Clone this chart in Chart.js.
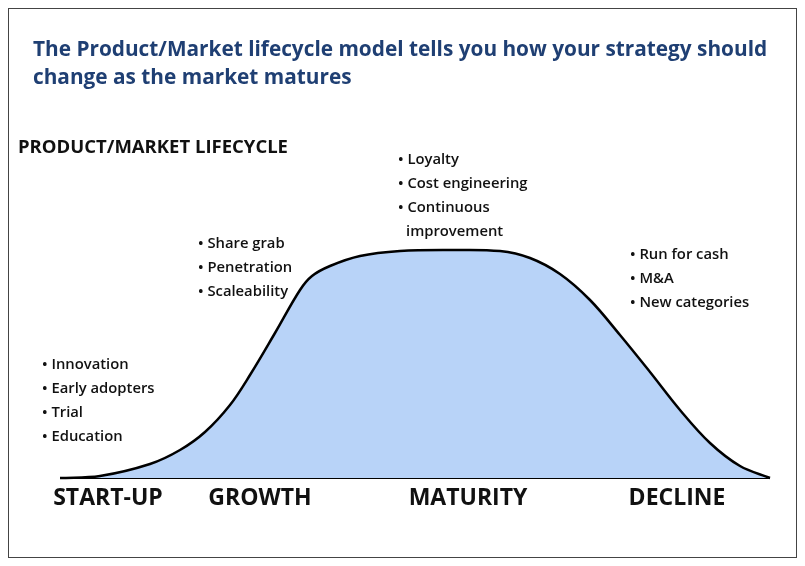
<!DOCTYPE html>
<html><head><meta charset="utf-8">
<script src="https://cdn.jsdelivr.net/npm/chart.js@4"></script>
<style>
body{margin:0;background:#fff}
#wrap{position:absolute;left:0;top:0;width:805px;height:566px}
</style></head><body>
<div id="wrap"><canvas id="c" width="805" height="566"></canvas></div>
<script>
// curve outline (x along lifecycle, y = screen position in picture units)
var curveX = [60,100,150,180,205,230,250,275,300,312,330,360,400,450,500,530,560,590,620,650,680,710,740,770];
var curveY = [478,476,464,450,432,405,375,333,290,276,266,256,251,250,251,258,274,300,335,372,410,443,466,478];
var stages = ['START-UP','GROWTH','MATURITY','DECLINE'];
var stageX = [108,260,468,677];
var notes = [
  {x:42,y:365,lines:['Innovation','Early adopters','Trial','Education']},
  {x:198,y:244,lines:['Share grab','Penetration','Scaleability']},
  {x:398,y:160,lines:['Loyalty','Cost engineering','Continuous','improvement']},
  {x:630,y:255,lines:['Run for cash','M&A','New categories']}
];

var pts = curveX.map(function(x,i){ return {x:x,y:curveY[i]}; });

var textPlugin = {
  id:'texts',
  afterDraw:function(chart){
    var ctx = chart.ctx;
    ctx.save();
    ctx.strokeStyle = '#444'; ctx.lineWidth = 1;
    ctx.strokeRect(8.5,8.5,788,549);
    ctx.textBaseline = 'middle';
    ctx.fillStyle = '#1f3f73';
    ctx.font = 'bold 20.8px "Open Sans"';
    ctx.fillText('The Product/Market lifecycle model tells you how your strategy should',33,50);
    ctx.fillText('change as the market matures',33,78);
    ctx.fillStyle = '#111';
    ctx.font = 'bold 18.5px "Open Sans"';
    ctx.fillText('PRODUCT/MARKET LIFECYCLE',18,148);
    ctx.font = 'bold 23px "Open Sans"';
    ctx.textAlign = 'center';
    stages.forEach(function(s,i){ ctx.fillText(s,stageX[i],498); });
    ctx.textAlign = 'left';
    ctx.font = '600 14.8px "Open Sans"';
    notes.forEach(function(n){
      n.lines.forEach(function(l,j){
        var cont = (l === 'improvement');
        ctx.fillText((cont ? '' : '\u2022 ') + l, n.x + (cont ? 8 : 0), n.y + j*24);
      });
    });
    ctx.restore();
  }
};

new Chart(document.getElementById('c'),{
  type:'line',
  data:{datasets:[
    {data:pts,borderColor:'#000',borderWidth:2.5,backgroundColor:'#b8d3f8',fill:{value:478},tension:0.35,pointRadius:0},
    {data:[{x:60,y:478},{x:770,y:478}],borderColor:'#000',borderWidth:2,pointRadius:0,fill:false}
  ]},
  options:{
    responsive:false,animation:false,
    layout:{padding:0},
    plugins:{legend:{display:false},tooltip:{enabled:false}},
    scales:{
      x:{type:'linear',min:0,max:805,display:false},
      y:{type:'linear',min:0,max:566,reverse:true,display:false}
    }
  },
  plugins:[textPlugin]
});
</script>
</body></html>
